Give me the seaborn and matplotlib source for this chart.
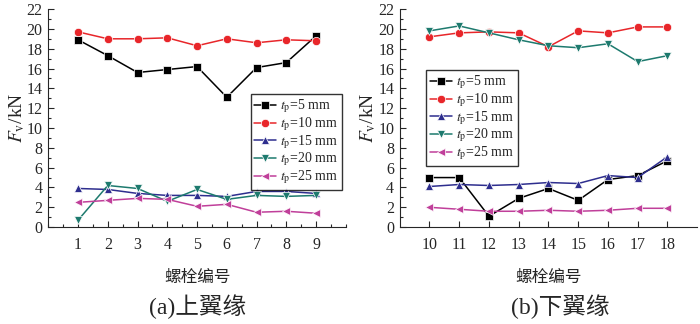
import matplotlib
matplotlib.use("Agg")
import matplotlib.pyplot as plt
from matplotlib.ticker import MultipleLocator
import numpy as np
import pandas as pd
import seaborn as sns

# bolt numbers
bolts_top = [1, 2, 3, 4, 5, 6, 7, 8, 9]
bolts_bot = [10, 11, 12, 13, 14, 15, 16, 17, 18]

# upper flange, Fv (kN)
top_t5 = [18.9, 17.3, 15.6, 15.9, 16.2, 13.1, 16.1, 16.6, 19.3]
top_t10 = [19.7, 19.0, 19.0, 19.1, 18.3, 19.0, 18.6, 18.9, 18.8]
top_t15 = [3.9, 3.8, 3.4, 3.2, 3.2, 3.1, 3.6, 3.6, 3.4]
top_t20 = [0.7, 4.2, 3.9, 2.6, 3.8, 2.8, 3.2, 3.1, 3.2]
top_t25 = [2.5, 2.7, 2.9, 2.8, 2.1, 2.3, 1.5, 1.6, 1.4]

# lower flange, Fv (kN)
bot_t5 = [5.0, 5.0, 1.1, 2.9, 3.9, 2.7, 4.8, 5.2, 6.7]
bot_t10 = [19.2, 19.6, 19.7, 19.6, 18.2, 19.8, 19.6, 20.2, 20.2]
bot_t15 = [4.1, 4.3, 4.2, 4.3, 4.5, 4.4, 5.2, 5.0, 7.1]
bot_t20 = [19.8, 20.3, 19.6, 18.9, 18.3, 18.1, 18.5, 16.7, 17.3]
bot_t25 = [2.0, 1.8, 1.6, 1.6, 1.7, 1.6, 1.7, 1.9, 1.9]

labels = [r"$t_\mathrm{p}$=5 mm", r"$t_\mathrm{p}$=10 mm", r"$t_\mathrm{p}$=15 mm",
          r"$t_\mathrm{p}$=20 mm", r"$t_\mathrm{p}$=25 mm"]
colors = ["#000000", "#e8262a", "#2e2e8e", "#1d7a6e", "#c03f9a"]
markers = ["s", "o", "^", "v", "<"]

sns.set_style("ticks")
plt.rcParams["font.family"] = ["Liberation Serif", "Noto Sans CJK SC"]
plt.rcParams["mathtext.fontset"] = "stix"
plt.rcParams["xtick.direction"] = "in"
plt.rcParams["ytick.direction"] = "in"


def make_df(bolts, series):
    rows = []
    for lab, vals in zip(labels, series):
        for b, v in zip(bolts, vals):
            rows.append({"bolt": b, "Fv": v, "case": lab})
    return pd.DataFrame(rows)


df_top = make_df(bolts_top, [top_t5, top_t10, top_t15, top_t20, top_t25])
df_bot = make_df(bolts_bot, [bot_t5, bot_t10, bot_t15, bot_t20, bot_t25])

fig = plt.figure(figsize=(7, 3.24), dpi=100)
ax1 = fig.add_axes([0.069, 0.299, 0.425, 0.673])
ax2 = fig.add_axes([0.571, 0.299, 0.425, 0.673])

pal = dict(zip(labels, colors))
mk = dict(zip(labels, markers))

# legend upper-left corner in axes fraction
for ax, df, xlim, leg_xy in [
    (ax1, df_top, (0, 10), (0.68, 0.61)),
    (ax2, df_bot, (9, 19), (0.09, 0.72)),
]:
    sns.lineplot(data=df, x="bolt", y="Fv", hue="case", style="case",
                 palette=pal, markers=mk, dashes=False, markersize=6,
                 markeredgewidth=0.5, linewidth=1.1, ax=ax)
    ax.set_xlim(*xlim)
    ax.set_ylim(0, 22)
    ax.yaxis.set_major_locator(MultipleLocator(2))
    ax.yaxis.set_minor_locator(MultipleLocator(1))
    if ax is ax1:
        ax.xaxis.set_minor_locator(MultipleLocator(0.5))
        ax.set_xticks(bolts_top)
    else:
        ax.set_xticks(bolts_bot)
    ax.tick_params(which="major", length=4, width=0.8, labelsize=11.5, pad=7)
    ax.tick_params(axis="y", which="major", pad=4)
    ax.tick_params(which="minor", length=2, width=0.8)
    for s in ["top", "right"]:
        ax.spines[s].set_visible(False)
    ax.set_xlabel("螺栓编号", fontsize=12, labelpad=12)
    ax.set_ylabel(r"$F_\mathrm{v}$/kN", fontsize=14, labelpad=0)
    leg = ax.legend(loc="upper left", bbox_to_anchor=leg_xy,
                    fontsize=10, frameon=True, fancybox=False, edgecolor="black",
                    handlelength=1.6, handleheight=0.5, handletextpad=0.3,
                    labelspacing=0.0, borderpad=0.25, borderaxespad=0)
    leg.get_frame().set_linewidth(1.0)

fig.text(0.282, 0.03, "(a)上翼缘", ha="center", fontsize=17)
fig.text(0.80, 0.03, "(b)下翼缘", ha="center", fontsize=17)

fig.savefig("out.png", dpi=100)
